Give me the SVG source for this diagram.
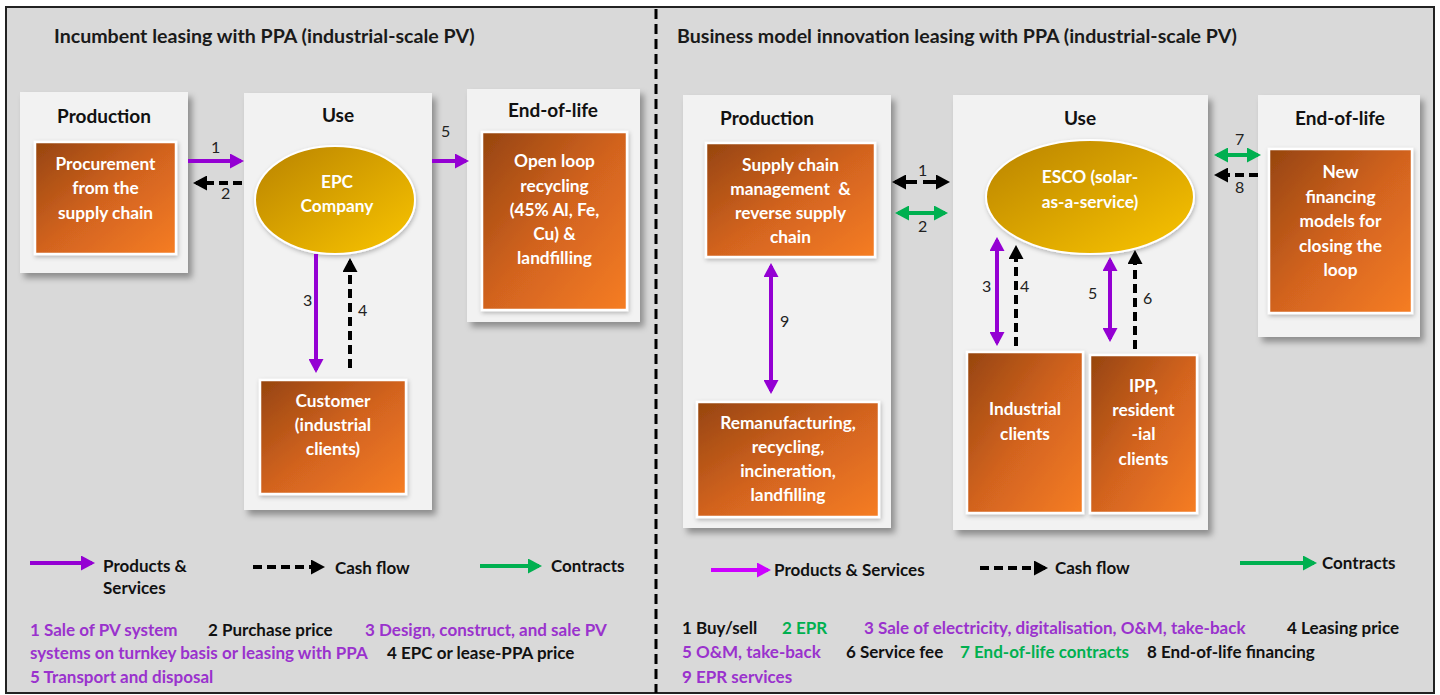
<svg xmlns="http://www.w3.org/2000/svg" width="1440" height="695" viewBox="0 0 1440 695">
  <defs>
    <linearGradient id="og" x1="0" y1="0" x2="1" y2="1">
      <stop offset="0" stop-color="#96450f"/>
      <stop offset="0.5" stop-color="#d2631f"/>
      <stop offset="1" stop-color="#f67d24"/>
    </linearGradient>
    <linearGradient id="yg" x1="0" y1="0" x2="1" y2="1">
      <stop offset="0" stop-color="#b98300"/>
      <stop offset="1" stop-color="#fac500"/>
    </linearGradient>
    <filter id="sh" x="-10%" y="-10%" width="130%" height="130%">
      <feDropShadow dx="4" dy="5" stdDeviation="3" flood-color="#000" flood-opacity="0.35"/>
    </filter>
    <filter id="sh2" x="-10%" y="-10%" width="130%" height="130%">
      <feDropShadow dx="1" dy="2" stdDeviation="2" flood-color="#000" flood-opacity="0.25"/>
    </filter>
    <marker id="mp" viewBox="0 0 14 15" refX="11" refY="7.5" markerWidth="14" markerHeight="15" markerUnits="userSpaceOnUse" orient="auto-start-reverse">
      <path d="M0,0 L14,7.5 L0,15 z" fill="#9400d3"/>
    </marker>
    <marker id="mm" viewBox="0 0 14 15" refX="11" refY="7.5" markerWidth="14" markerHeight="15" markerUnits="userSpaceOnUse" orient="auto-start-reverse">
      <path d="M0,0 L14,7.5 L0,15 z" fill="#cc00ff"/>
    </marker>
    <marker id="mk" viewBox="0 0 14 15" refX="11" refY="7.5" markerWidth="14" markerHeight="15" markerUnits="userSpaceOnUse" orient="auto-start-reverse">
      <path d="M0,0 L14,7.5 L0,15 z" fill="#000"/>
    </marker>
    <marker id="mg" viewBox="0 0 14 15" refX="11" refY="7.5" markerWidth="14" markerHeight="15" markerUnits="userSpaceOnUse" orient="auto-start-reverse">
      <path d="M0,0 L14,7.5 L0,15 z" fill="#00b050"/>
    </marker>
  </defs>
  <style>
    .stage { fill: #f2f2f2; filter: url(#sh); }
    .card { fill: url(#og); stroke: #fff; stroke-width: 2.5; filter: url(#sh2); }
    .oval { fill: url(#yg); stroke: #fff; stroke-width: 2; filter: url(#sh2); }
    text { font-family: Lato, "Liberation Sans", sans-serif; }
    .title { font-size: 19.6px; font-weight: bold; fill: #1a1a1a; }
    .hd { font-size: 19px; font-weight: bold; fill: #111; text-anchor: middle; }
    .ct { font-size: 17.3px; font-weight: bold; fill: #fff; text-anchor: middle; }
    .num { font-size: 16px; fill: #222; }
    .lg { font-size: 17px; font-weight: bold; fill: #111; }
    .pu { fill: #9a32cd; }
    .gr { fill: #00b050; }
    .bk { fill: #111; }
    .pp { stroke: #9400d3; stroke-width: 4; fill: none; }
    .pm { stroke: #cc00ff; stroke-width: 4; fill: none; }
    .cf { stroke: #000; stroke-width: 4; stroke-dasharray: 9 5; fill: none; }
    .gn { stroke: #00b050; stroke-width: 4; fill: none; }
    .one { marker-end: url(#mp); }
    .two { marker-start: url(#mp); marker-end: url(#mp); }
    .cfe { marker-end: url(#mk); }
    .cf2 { marker-start: url(#mk); marker-end: url(#mk); }
    .gn2 { marker-start: url(#mg); marker-end: url(#mg); }
    .gne { marker-end: url(#mg); }
    .pme { marker-end: url(#mm); }
  </style>

  <!-- frame and panel divider -->
  <rect x="6" y="7" width="1428" height="686" fill="#d9d9d9" stroke="#222" stroke-width="2"/>
  <line x1="656" y1="9" x2="656" y2="693" stroke="#000" stroke-width="3" stroke-dasharray="10 5"/>

  <text class="title" x="54" y="43">Incumbent leasing with PPA (industrial-scale PV)</text>
  <text class="title" x="677" y="43">Business model innovation leasing with PPA (industrial-scale PV)</text>

  <!-- left panel: incumbent model -->
  <g id="left-production">
    <rect class="stage" x="20" y="92" width="168" height="181"/>
    <text class="hd" x="104" y="123">Production</text>
    <rect class="card" x="35" y="142" width="141" height="112"/>
    <text class="ct" x="105.5" y="170">Procurement</text>
    <text class="ct" x="105.5" y="194">from the</text>
    <text class="ct" x="105.5" y="219">supply chain</text>
  </g>
  <g id="left-use">
    <rect class="stage" x="244" y="93" width="188" height="417"/>
    <text class="hd" x="338" y="122">Use</text>
  </g>
  <g id="left-epc">
    <ellipse class="oval" cx="335" cy="200" rx="80" ry="54"/>
    <text class="ct" x="337" y="188">EPC</text>
    <text class="ct" x="337" y="212">Company</text>
  </g>
  <g id="left-customer">
    <rect class="card" x="260" y="380" width="146" height="114"/>
    <text class="ct" x="333" y="407">Customer</text>
    <text class="ct" x="333" y="431">(industrial</text>
    <text class="ct" x="333" y="455">clients)</text>
  </g>
  <g id="left-eol">
    <rect class="stage" x="467" y="89" width="173" height="233"/>
    <text class="hd" x="553" y="117">End-of-life</text>
    <rect class="card" x="482" y="132" width="145" height="178"/>
    <text class="ct" x="554.5" y="167">Open loop</text>
    <text class="ct" x="554.5" y="192">recycling</text>
    <text class="ct" x="554.5" y="216">(45% Al, Fe,</text>
    <text class="ct" x="554.5" y="240">Cu) &amp;</text>
    <text class="ct" x="554.5" y="264">landfilling</text>
  </g>

  <!-- right panel: business model innovation -->
  <g id="right-production">
    <rect class="stage" x="683" y="95" width="208" height="433"/>
    <text class="hd" x="767" y="125">Production</text>
  </g>
  <g id="right-supply">
    <rect class="card" x="706" y="143" width="169" height="114"/>
    <text class="ct" x="790.5" y="171">Supply chain</text>
    <text class="ct" x="790.5" y="195">management&#160; &amp;</text>
    <text class="ct" x="790.5" y="219">reverse supply</text>
    <text class="ct" x="790.5" y="243">chain</text>
  </g>
  <g id="right-reman">
    <rect class="card" x="697" y="402" width="182" height="115"/>
    <text class="ct" x="788" y="429">Remanufacturing,</text>
    <text class="ct" x="788" y="453">recycling,</text>
    <text class="ct" x="788" y="477">incineration,</text>
    <text class="ct" x="788" y="501">landfilling</text>
  </g>
  <g id="right-use">
    <rect class="stage" x="953" y="95" width="255" height="435"/>
    <text class="hd" x="1080" y="125">Use</text>
  </g>
  <g id="right-esco">
    <ellipse class="oval" cx="1090" cy="197" rx="104" ry="57"/>
    <text class="ct" x="1090" y="183">ESCO (solar-</text>
    <text class="ct" x="1090" y="208">as-a-service)</text>
  </g>
  <g id="right-industrial">
    <rect class="card" x="967" y="352" width="116" height="161"/>
    <text class="ct" x="1025" y="415">Industrial</text>
    <text class="ct" x="1025" y="440">clients</text>
  </g>
  <g id="right-ipp">
    <rect class="card" x="1090" y="355" width="107" height="158"/>
    <text class="ct" x="1143.5" y="392">IPP,</text>
    <text class="ct" x="1143.5" y="416">resident</text>
    <text class="ct" x="1143.5" y="440">-ial</text>
    <text class="ct" x="1143.5" y="465">clients</text>
  </g>
  <g id="right-eol">
    <rect class="stage" x="1258" y="95" width="162" height="242"/>
    <text class="hd" x="1340" y="125">End-of-life</text>
    <rect class="card" x="1269" y="149" width="143" height="164"/>
    <text class="ct" x="1340.5" y="178">New</text>
    <text class="ct" x="1340.5" y="203">financing</text>
    <text class="ct" x="1340.5" y="227">models for</text>
    <text class="ct" x="1340.5" y="252">closing the</text>
    <text class="ct" x="1340.5" y="276">loop</text>
  </g>

  <!-- connectors -->
  <g id="connectors">
    <!-- left panel -->
    <line class="pp one" x1="188" y1="161" x2="241" y2="161"/>
    <line class="cf cfe" x1="242" y1="183" x2="196" y2="183"/>
    <line class="pp one" x1="432" y1="161" x2="466" y2="161"/>
    <line class="pp one" x1="316" y1="254" x2="316" y2="370"/>
    <line class="cf cfe" x1="350" y1="368" x2="350" y2="261"/>
    <!-- right panel -->
    <line class="cf cf2" x1="895" y1="182" x2="947" y2="182" style="stroke-dasharray:22 6"/>
    <line class="gn gn2" x1="898" y1="213" x2="945" y2="213"/>
    <line class="pp two" x1="771" y1="266" x2="771" y2="391"/>
    <line class="pp two" x1="997" y1="240" x2="997" y2="343"/>
    <line class="cf cfe" x1="1016" y1="346" x2="1016" y2="248"/>
    <line class="pp two" x1="1110" y1="260" x2="1110" y2="339"/>
    <line class="cf cfe" x1="1135" y1="349" x2="1135" y2="253"/>
    <line class="gn gn2" x1="1217" y1="155" x2="1258" y2="155"/>
    <line class="cf cfe" x1="1258" y1="175" x2="1217" y2="175"/>
  </g>

  <!-- flow numbers -->
  <g id="flow-numbers">
    <text class="num" x="211" y="153">1</text>
    <text class="num" x="221" y="199">2</text>
    <text class="num" x="441" y="137">5</text>
    <text class="num" x="303" y="306">3</text>
    <text class="num" x="358" y="316">4</text>
    <text class="num" x="918" y="176">1</text>
    <text class="num" x="918" y="232">2</text>
    <text class="num" x="780" y="327">9</text>
    <text class="num" x="982" y="292">3</text>
    <text class="num" x="1020" y="292">4</text>
    <text class="num" x="1088" y="299">5</text>
    <text class="num" x="1143" y="304">6</text>
    <text class="num" x="1235" y="145">7</text>
    <text class="num" x="1235" y="193">8</text>
  </g>

  <!-- left legend -->
  <g id="legend-left">
    <line class="pp one" x1="30" y1="563" x2="92" y2="563"/>
    <text class="lg" x="103" y="572">Products &amp;</text>
    <text class="lg" x="103" y="594">Services</text>
    <line class="cf cfe" x1="253" y1="567" x2="322" y2="567"/>
    <text class="lg" x="335" y="574">Cash flow</text>
    <line class="gn gne" x1="480" y1="566" x2="539" y2="566"/>
    <text class="lg" x="551" y="572">Contracts</text>

    <text class="lg pu" x="30" y="636">1 Sale of PV system</text>
    <text class="lg bk" x="208" y="636">2 Purchase price</text>
    <text class="lg pu" x="365" y="636">3 Design, construct, and sale PV</text>
    <text class="lg pu" x="30" y="659">systems on turnkey basis or leasing with PPA</text>
    <text class="lg bk" x="387" y="659">4 EPC or lease-PPA price</text>
    <text class="lg pu" x="30" y="683">5 Transport and disposal</text>
  </g>

  <!-- right legend -->
  <g id="legend-right">
    <line class="pm pme" x1="711" y1="570" x2="768" y2="570"/>
    <text class="lg" x="774" y="576">Products &amp; Services</text>
    <line class="cf cfe" x1="980" y1="568" x2="1045" y2="568"/>
    <text class="lg" x="1055" y="574">Cash flow</text>
    <line class="gn gne" x1="1240" y1="563" x2="1314" y2="563"/>
    <text class="lg" x="1322" y="569">Contracts</text>

    <text class="lg bk" x="682" y="634">1 Buy/sell</text>
    <text class="lg gr" x="782" y="634">2 EPR</text>
    <text class="lg pu" x="864" y="634">3 Sale of electricity, digitalisation, O&amp;M, take-back</text>
    <text class="lg bk" x="1287" y="634">4 Leasing price</text>
    <text class="lg pu" x="682" y="658">5 O&amp;M, take-back</text>
    <text class="lg bk" x="846" y="658">6 Service fee</text>
    <text class="lg gr" x="960" y="658">7 End-of-life contracts</text>
    <text class="lg bk" x="1147" y="658">8 End-of-life financing</text>
    <text class="lg pu" x="682" y="683">9 EPR services</text>
  </g>
</svg>
